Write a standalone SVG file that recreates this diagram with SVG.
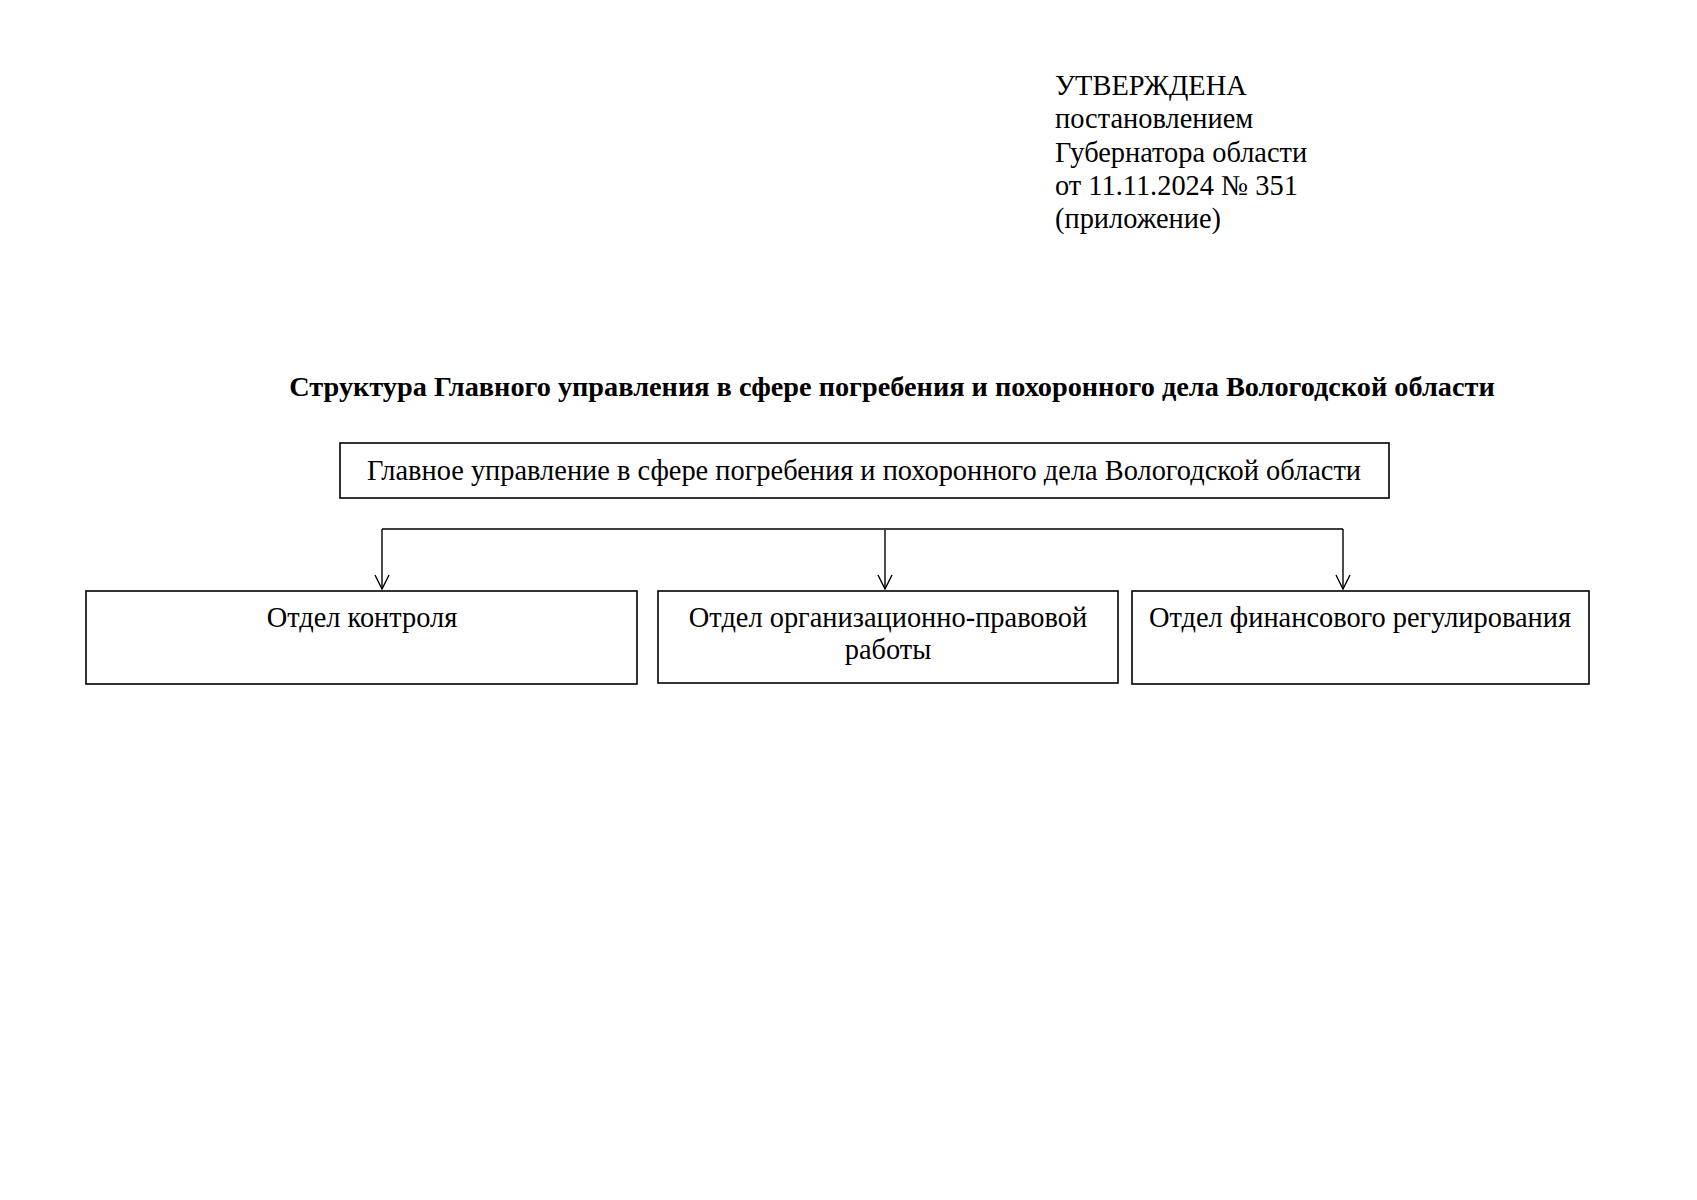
<svg xmlns="http://www.w3.org/2000/svg" width="1697" height="1200" viewBox="0 0 1697 1200">
<style>
text{font-family:"Liberation Serif","Times New Roman",serif;fill:#000}
.hdr{font-size:28.4px}
.ttl{font-size:28.3px;font-weight:bold}
.lbl{font-size:28.4px}
.box{fill:#fff;stroke:#000;stroke-width:1.6}
.con{fill:none;stroke:#000;stroke-width:1.4}
</style>
<defs>
<marker id="arr" viewBox="0 0 16 16" refX="15" refY="8" markerWidth="16" markerHeight="16" markerUnits="userSpaceOnUse" orient="auto">
<path d="M1,1 L15,8 L1,15" fill="none" stroke="#000" stroke-width="1.4"/>
</marker>
</defs>
<rect width="1697" height="1200" fill="#fff"/>
<g id="header">
<text class="hdr" x="1055" y="95">УТВЕРЖДЕНА</text>
<text class="hdr" x="1055" y="128">постановлением</text>
<text class="hdr" x="1055" y="162">Губернатора области</text>
<text class="hdr" x="1055" y="195">от 11.11.2024 № 351</text>
<text class="hdr" x="1055" y="228">(приложение)</text>
</g>
<g id="title">
<text class="ttl" x="892" y="396" text-anchor="middle">Структура Главного управления в сфере погребения и похоронного дела Вологодской области</text>
</g>
<g id="connectors">
<polyline class="con" points="382,529 1343,529"/>
<line class="con" x1="382" y1="529" x2="382" y2="589" marker-end="url(#arr)"/>
<line class="con" x1="885" y1="530" x2="885" y2="589" marker-end="url(#arr)"/>
<line class="con" x1="1343" y1="529" x2="1343" y2="589" marker-end="url(#arr)"/>
</g>
<g id="node-main">
<rect class="box" x="340" y="443" width="1049" height="55"/>
<text class="lbl" x="864" y="480" text-anchor="middle">Главное управление в сфере погребения и похоронного дела Вологодской области</text>
</g>
<g id="node-control">
<rect class="box" x="86" y="591" width="551" height="93"/>
<text class="lbl" x="362" y="627" text-anchor="middle">Отдел контроля</text>
</g>
<g id="node-org">
<rect class="box" x="658" y="591" width="460" height="92"/>
<text class="lbl" x="888" y="627" text-anchor="middle">Отдел организационно-правовой</text>
<text class="lbl" x="888" y="659" text-anchor="middle">работы</text>
</g>
<g id="node-fin">
<rect class="box" x="1132" y="591" width="457" height="93"/>
<text class="lbl" x="1360" y="627" text-anchor="middle">Отдел финансового регулирования</text>
</g>
</svg>
